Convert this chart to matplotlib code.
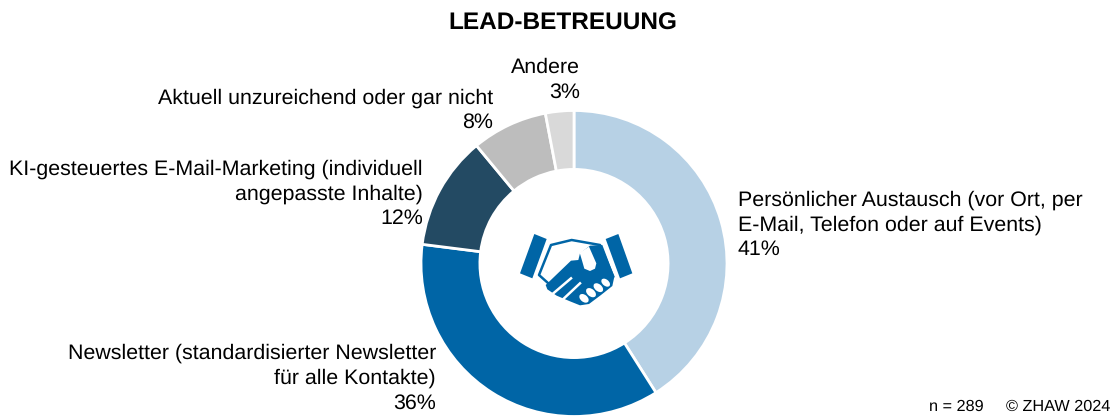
import matplotlib
matplotlib.use("Agg")
import matplotlib.pyplot as plt
from matplotlib.patches import Polygon, Ellipse

plt.rcParams['font.family'] = ['Liberation Sans', 'DejaVu Sans']
plt.rcParams['text.hinting'] = 'none'

categories = ["Persönlicher Austausch (vor Ort, per\nE-Mail, Telefon oder auf Events)",
    "Newsletter (standardisierter Newsletter\nfür alle Kontakte)",
    "KI-gesteuertes E-Mail-Marketing (individuell\nangepasste Inhalte)",
    "Aktuell unzureichend oder gar nicht",
    "Andere"]
values = [41, 36, 12, 8, 3]
colors = ["#B7D1E5", "#0065A6", "#234A63", "#BDBDBD", "#D9D9D9"]

W, H = 1115, 417
BLUE = "#0065A6"
fig = plt.figure(figsize=(W / 100, H / 100), dpi=100)

# donut, centre (574, 263.5) radius 153 in pixels
r = 153
cx, cy = 574, 263.5
ax = fig.add_axes([(cx - r) / W, 1 - (cy + r) / H, 2 * r / W, 2 * r / H])
ax.pie(values, colors=colors, startangle=90, counterclock=False, radius=1,
       wedgeprops=dict(width=0.385, edgecolor="white", linewidth=2))
ax.set_xlim(-1, 1)
ax.set_ylim(-1, 1)

# overlay in pixel coordinates for the texts and the icon
ov = fig.add_axes([0, 0, 1, 1])
ov.set_xlim(0, W)
ov.set_ylim(H, 0)
ov.axis("off")

fs = 15.4
ov.text(563, 24, "LEAD-BETREUUNG", ha="center", va="center", fontsize=17.6, fontweight="bold", color="black")

# (x, y of the top line, alignment)
label_pos = [(738, 190, "left"), (436, 343, "right"), (423, 159, "right"), (493, 88, "right"), (580, 58, "right")]
for cat, val, (x, y, ha) in zip(categories, values, label_pos):
    ov.text(x, y, f"{cat}\n{val}%", ha=ha, va="top", fontsize=fs, color="black", linespacing=1.36)

ov.text(929, 406.5, "n = 289", ha="left", va="center", fontsize=11.7, color="black")
ov.text(1006, 406.5, "© ZHAW 2024", ha="left", va="center", fontsize=11.7, color="black")


def ic(points):
    # icon sketched on a 3x crop starting at (515, 230)
    return [(515 + x / 3, 230 + y / 3) for x, y in points]


ov.add_patch(Polygon(ic([(58, 12), (95, 27), (52, 145), (15, 130)]), fc=BLUE, ec="none"))
ov.add_patch(Polygon(ic([(272, 27), (310, 12), (352, 130), (315, 145)]), fc=BLUE, ec="none"))
# outline of the left hand
ov.add_patch(Polygon(ic([(108, 45), (170, 30), (255, 45), (295, 140), (100, 160), (72, 135)]),
                     fc="white", ec=BLUE, lw=1.8, joinstyle="round"))
# lower hand
ov.add_patch(Polygon(ic([(92, 165), (168, 92), (190, 90), (195, 70), (225, 47), (262, 45), (298, 140), (292, 168),
                         (258, 195), (222, 222), (195, 226), (165, 214), (125, 197), (97, 178)]),
                     fc=BLUE, ec="none"))
# thumb
ov.add_patch(Polygon(ic([(194, 68), (222, 50), (244, 100), (240, 116), (225, 123), (208, 116), (202, 95)]),
                     fc="white", ec="none"))
# finger gaps
ov.plot(*zip(*ic([(168, 145), (115, 190)])), color="white", lw=1.8)
ov.plot(*zip(*ic([(195, 160), (145, 207)])), color="white", lw=1.8)
# round fingers
for fx, fy, w, h in [(272, 158, 30, 19), (250, 173, 33, 21), (228, 188, 34, 22), (207, 205, 32, 21)]:
    px, py = ic([(fx, fy)])[0]
    ov.add_patch(Ellipse((px, py), w / 3, h / 3, angle=40, fc="white", ec="none"))
ov.set_aspect("auto")

fig.savefig("out.png", dpi=100)
